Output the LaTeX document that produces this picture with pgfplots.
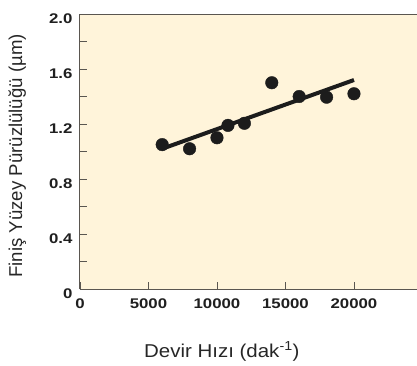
\documentclass[border=0pt]{standalone}
\usepackage{pgfplots}
\pgfplotsset{compat=1.18}
\usepackage{fontspec}
\setmainfont{Liberation Sans}
\newfontfamily\tickfont[FakeStretch=1.2]{Liberation Sans}
\newfontfamily\xlabfont[FakeStretch=1.1]{Liberation Sans}
\newcommand{\tl}[1]{{\tickfont\bfseries #1}}
\definecolor{cream}{HTML}{FFF4DA}
\definecolor{dotblack}{HTML}{1C1C1C}
\definecolor{axisgray}{HTML}{5A5650}
\begin{document}
\begin{tikzpicture}
\begin{axis}[
    scale only axis,
    width=337pt, height=275pt,
    xmin=0, xmax=24600, ymin=0, ymax=2.0,
    axis x line=box, axis y line*=left,
    axis line style={draw=axisgray, line width=1pt},
    axis background/.style={fill=cream},
    tick style={draw=axisgray, line width=0.8pt},
    tick align=inside,
    major tick length=7pt, minor tick length=7pt,
    xtick pos=left,
    xtick={0,5000,10000,15000,20000},
    xticklabels={\tl{0},\tl{5000},\tl{10000},\tl{15000},\tl{20000}},
    ytick={0,0.4,0.8,1.2,1.6,2.0},
    yticklabels={{\tl{0}\hspace{8pt}},\tl{0.4},\tl{0.8},\tl{1.2},\tl{1.6},\tl{2.0}},
    minor ytick={0.2,0.6,1.0,1.4,1.8},
    scaled x ticks=false,
    ticklabel style={font=\fontsize{14}{16}\selectfont, text=black!88},
    yticklabel style={xshift=-4pt, yshift=-5pt},
    xticklabel style={yshift=-6pt},
    xlabel={\xlabfont Devir Hızı (dak\textsuperscript{-1})},
    ylabel={Finiş Yüzey Pürüzlülüğü (µm)},
    label style={font=\fontsize{18.6}{20}\selectfont, text=black!85},
    xlabel style={at={(axis description cs:0.421,0)}, anchor=base, yshift=-68pt},
    ylabel style={at={(axis description cs:-0.172,0.484)}, anchor=base},
    clip=false,
]
\addplot[only marks, mark=*, mark size=6.3pt, mark options={fill=dotblack, draw=dotblack}]
  coordinates {(6000,1.05) (8000,1.02) (10000,1.10) (10800,1.19) (12000,1.205)
               (14000,1.50) (16000,1.40) (18000,1.395) (20000,1.42)};
\addplot[dotblack, line width=4pt, line cap=butt]
  coordinates {(6000,1.02) (20000,1.52)};
\end{axis}
\pgfresetboundingbox
\path[use as bounding box] ([shift={(-80pt,-76pt)}]current axis.south west)
  rectangle ([shift={(0pt,14pt)}]current axis.north east);
\end{tikzpicture}
\end{document}
